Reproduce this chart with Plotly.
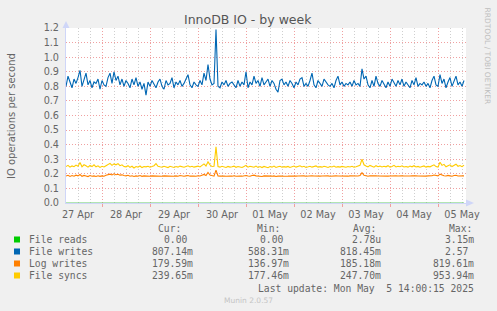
import pandas as pd
import plotly.graph_objects as go

# ---------------- data (hourly samples) ----------------
start_time = "2025-04-27 06:00"
end_time = "2025-05-05 14:00"

file_writes = [
    0.80, 0.87, 0.83, 0.79, 0.85, 0.82, 0.86, 0.91, 0.80, 0.84,
    0.89, 0.81, 0.84, 0.79, 0.83, 0.82, 0.85, 0.78, 0.84, 0.81,
    0.80, 0.86, 0.89, 0.82, 0.90, 0.84, 0.87, 0.81, 0.85, 0.80,
    0.84, 0.82, 0.79, 0.85, 0.81, 0.86, 0.80, 0.83, 0.78, 0.82,
    0.74, 0.83, 0.80, 0.84, 0.81, 0.79, 0.83, 0.85, 0.80, 0.78,
    0.84, 0.81, 0.82, 0.86, 0.79, 0.83, 0.81, 0.84, 0.80, 0.82,
    0.85, 0.88, 0.81, 0.79, 0.83, 0.81, 0.80, 0.84, 0.81, 0.89,
    0.84, 0.95, 0.85, 0.81, 0.82, 1.19, 0.80, 0.79, 0.83, 0.81,
    0.84, 0.80, 0.82, 0.83, 0.81, 0.79, 0.84, 0.80, 0.83, 0.81,
    0.90, 0.79, 0.83, 0.81, 0.87, 0.82, 0.84, 0.80, 0.86, 0.81,
    0.83, 0.85, 0.80, 0.84, 0.82, 0.78, 0.76, 0.84, 0.85, 0.81,
    0.83, 0.80, 0.84, 0.82, 0.79, 0.83, 0.81, 0.85, 0.86, 0.80,
    0.82, 0.80, 0.84, 0.89, 0.81, 0.79, 0.84, 0.82, 0.80, 0.85,
    0.83, 0.81, 0.80, 0.82, 0.79, 0.84, 0.87, 0.81, 0.83, 0.80,
    0.82, 0.81, 0.83, 0.80, 0.84, 0.81, 0.82, 0.80, 0.92, 0.85,
    0.87, 0.81, 0.79, 0.84, 0.80, 0.87, 0.82, 0.80, 0.84, 0.81,
    0.79, 0.83, 0.80, 0.85, 0.82, 0.80, 0.84, 0.81, 0.85, 0.80,
    0.83, 0.81, 0.79, 0.84, 0.81, 0.86, 0.80, 0.82, 0.81, 0.83,
    0.80, 0.82, 0.79, 0.84, 0.87, 0.81, 0.80, 0.88, 0.82, 0.85,
    0.79, 0.83, 0.86, 0.80, 0.84, 0.87, 0.81, 0.83, 0.80, 0.84,
]

log_writes = [
    0.185, 0.190, 0.182, 0.188, 0.184, 0.191, 0.186, 0.195, 0.183, 0.189,
    0.185, 0.181, 0.188, 0.184, 0.186, 0.182, 0.187, 0.183, 0.186, 0.184,
    0.190, 0.195, 0.198, 0.192, 0.200, 0.194, 0.197, 0.191, 0.193, 0.188,
    0.186, 0.190, 0.184, 0.187, 0.182, 0.186, 0.184, 0.188, 0.183, 0.186,
    0.184, 0.187, 0.183, 0.186, 0.185, 0.189, 0.184, 0.187, 0.183, 0.186,
    0.185, 0.184, 0.187, 0.185, 0.183, 0.186, 0.184, 0.188, 0.185, 0.184,
    0.186, 0.188, 0.184, 0.186, 0.185, 0.183, 0.187, 0.185, 0.190, 0.196,
    0.188, 0.210, 0.192, 0.186, 0.184, 0.225, 0.185, 0.184, 0.187, 0.185,
    0.183, 0.186, 0.185, 0.184, 0.187, 0.183, 0.186, 0.185, 0.184, 0.186,
    0.189, 0.185, 0.183, 0.188, 0.191, 0.186, 0.184, 0.187, 0.182, 0.186,
    0.185, 0.183, 0.187, 0.184, 0.186, 0.182, 0.184, 0.187, 0.185, 0.183,
    0.186, 0.184, 0.185, 0.183, 0.186, 0.184, 0.185, 0.187, 0.184, 0.186,
    0.183, 0.185, 0.184, 0.187, 0.185, 0.183, 0.186, 0.184, 0.185, 0.187,
    0.184, 0.186, 0.183, 0.185, 0.184, 0.186, 0.185, 0.184, 0.186, 0.183,
    0.185, 0.184, 0.186, 0.185, 0.183, 0.186, 0.185, 0.188, 0.208, 0.190,
    0.186, 0.184, 0.187, 0.185, 0.183, 0.186, 0.185, 0.184, 0.187, 0.185,
    0.186, 0.184, 0.185, 0.187, 0.184, 0.186, 0.185, 0.183, 0.186, 0.185,
    0.184, 0.186, 0.185, 0.187, 0.184, 0.186, 0.185, 0.184, 0.186, 0.185,
    0.184, 0.186, 0.185, 0.187, 0.192, 0.188, 0.186, 0.198, 0.190, 0.187,
    0.185, 0.189, 0.186, 0.184, 0.188, 0.190, 0.185, 0.187, 0.184, 0.186,
]

file_syncs = [
    0.250, 0.258, 0.246, 0.254, 0.249, 0.260, 0.252, 0.278, 0.248, 0.262,
    0.255, 0.246, 0.257, 0.250, 0.262, 0.248, 0.255, 0.244, 0.252, 0.247,
    0.256, 0.264, 0.272, 0.258, 0.268, 0.262, 0.270, 0.256, 0.262, 0.250,
    0.248, 0.256, 0.244, 0.252, 0.240, 0.250, 0.246, 0.254, 0.243, 0.250,
    0.248, 0.252, 0.246, 0.250, 0.256, 0.270, 0.252, 0.248, 0.245, 0.252,
    0.247, 0.243, 0.252, 0.248, 0.244, 0.250, 0.246, 0.253, 0.248, 0.245,
    0.250, 0.255, 0.247, 0.252, 0.246, 0.249, 0.253, 0.247, 0.258, 0.268,
    0.254, 0.282, 0.262, 0.250, 0.252, 0.385, 0.250, 0.246, 0.252, 0.247,
    0.244, 0.251, 0.246, 0.249, 0.253, 0.245, 0.250, 0.247, 0.244, 0.251,
    0.258, 0.246, 0.252, 0.249, 0.245, 0.253, 0.244, 0.250, 0.243, 0.251,
    0.247, 0.242, 0.250, 0.246, 0.253, 0.244, 0.248, 0.252, 0.245, 0.249,
    0.246, 0.251, 0.244, 0.249, 0.253, 0.246, 0.250, 0.255, 0.247, 0.252,
    0.244, 0.249, 0.252, 0.246, 0.250, 0.254, 0.245, 0.249, 0.246, 0.252,
    0.248, 0.244, 0.250, 0.247, 0.253, 0.245, 0.249, 0.246, 0.251, 0.247,
    0.245, 0.250, 0.247, 0.252, 0.246, 0.249, 0.252, 0.258, 0.300, 0.262,
    0.254, 0.248, 0.258, 0.250, 0.246, 0.256, 0.249, 0.253, 0.247, 0.252,
    0.248, 0.256, 0.246, 0.251, 0.258, 0.247, 0.252, 0.249, 0.255, 0.247,
    0.250, 0.246, 0.253, 0.248, 0.256, 0.247, 0.251, 0.245, 0.250, 0.254,
    0.246, 0.251, 0.248, 0.256, 0.262, 0.250, 0.246, 0.280, 0.258, 0.265,
    0.248, 0.256, 0.262, 0.250, 0.258, 0.266, 0.252, 0.257, 0.249, 0.260,
]

file_reads = [
    0, 0, 0, 0, 0, 0, 0, 0, 0, 0, 0, 0, 0, 0, 0, 0, 0, 0, 0, 0,
    0, 0, 0, 0, 0, 0, 0, 0, 0, 0, 0, 0, 0, 0, 0, 0, 0, 0, 0, 0,
    0, 0, 0, 0, 0, 0, 0, 0, 0, 0, 0, 0, 0, 0, 0, 0, 0, 0, 0, 0,
    0, 0, 0, 0, 0, 0, 0, 0, 0, 0, 0, 0, 0, 0, 0, 0, 0, 0, 0, 0,
    0, 0, 0, 0, 0, 0, 0, 0, 0, 0, 0, 0, 0, 0, 0, 0, 0, 0, 0, 0,
    0, 0, 0, 0, 0, 0, 0, 0, 0, 0, 0, 0, 0, 0, 0, 0, 0, 0, 0, 0,
    0, 0, 0, 0, 0, 0, 0, 0, 0, 0, 0, 0, 0, 0, 0, 0, 0, 0, 0, 0,
    0, 0, 0, 0, 0, 0, 0, 0, 0, 0, 0, 0, 0, 0, 0, 0, 0, 0, 0, 0,
    0, 0, 0, 0, 0, 0, 0, 0, 0, 0, 0, 0, 0, 0, 0, 0, 0, 0, 0, 0,
    0, 0, 0, 0, 0, 0, 0, 0, 0, 0, 0, 0, 0, 0, 0, 0, 0, 0, 0, 0,
]

day_labels = ["27 Apr", "28 Apr", "29 Apr", "30 Apr", "01 May",
              "02 May", "03 May", "04 May", "05 May"]
label_days = ["2025-04-27", "2025-04-28", "2025-04-29", "2025-04-30", "2025-05-01",
              "2025-05-02", "2025-05-03", "2025-05-04", "2025-05-05"]

series_names = ["File reads", "File writes", "Log writes", "File syncs"]
series_colors = ["#00CC00", "#0066B3", "#FF8000", "#FFCC00"]
cur_vals = ["0.00\u00a0", "807.14m", "179.59m", "239.65m"]
min_vals = ["0.00\u00a0", "588.31m", "136.97m", "177.46m"]
avg_vals = ["2.78u", "818.45m", "185.18m", "247.70m"]
max_vals = ["3.15m", "2.57\u00a0", "819.61m", "953.94m"]

title_text = "InnoDB IO - by week"
y_title = "IO operations per second"
last_update = "Last update: Mon May\u00a0\u00a05 14:00:15 2025"

# ---------------- figure ----------------
times = pd.date_range(start_time, periods=len(file_writes), freq="h")
noon = [pd.Timestamp(d) + pd.Timedelta(hours=12) for d in label_days]

W, H = 497, 311
L, R, T, B = 66, 466, 28, 203
PW, PH = R - L, B - T


def px(x):
    return (x - L) / PW


def py(y):
    return (B - y) / PH


FONT_COLOR = "#666666"
MONO = "DejaVu Sans Mono"
SANS = "DejaVu Sans"
MGRID = "#F0A0A0"
GRID = "#CFCFCF"
DOT = "1px,2px"

fig = go.Figure()
fig.add_trace(go.Scatter(x=times, y=file_writes, mode="lines",
                         line=dict(color=series_colors[1], width=1.1), hoverinfo="skip"))
fig.add_trace(go.Scatter(x=times, y=log_writes, mode="lines",
                         line=dict(color=series_colors[2], width=1.1), hoverinfo="skip"))
fig.add_trace(go.Scatter(x=times, y=file_syncs, mode="lines",
                         line=dict(color=series_colors[3], width=1.1), hoverinfo="skip"))
fig.add_trace(go.Scatter(x=times, y=file_reads, mode="lines", xaxis="x2",
                         line=dict(color="#66CC66", width=1.2), hoverinfo="skip"))

x_range = [pd.Timestamp(start_time), pd.Timestamp(end_time)]

fig.update_layout(
    width=W, height=H,
    margin=dict(l=L, r=W - R, t=T, b=H - B),
    paper_bgcolor="#F0F0F0", plot_bgcolor="#FFFFFF",
    showlegend=False,
    xaxis=dict(
        range=x_range, tickmode="linear", tick0="2025-04-27", dtick=86400000,
        showticklabels=False,
        ticks="outside", ticklen=3, tickcolor=MGRID,
        showgrid=True, gridcolor=MGRID, griddash=DOT, gridwidth=1,
        minor=dict(dtick=6 * 3600 * 1000, tick0="2025-04-27", showgrid=True,
                   gridcolor=GRID, griddash=DOT, gridwidth=1, ticks=""),
        showline=True, linecolor="#CFD6F8", linewidth=1, zeroline=False,
        layer="below traces", fixedrange=True,
    ),
    xaxis2=dict(
        overlaying="x", matches="x", anchor="y", side="bottom",
        tickmode="array", tickvals=noon, ticktext=day_labels,
        showgrid=False, ticks="", showline=False, zeroline=False,
        tickfont=dict(family=SANS, size=9.7, color=FONT_COLOR),
        ticklabelstandoff=4,
    ),
    yaxis=dict(
        range=[0, 1.2], tickmode="linear", tick0=0, dtick=0.1, tickformat=".1f",
        showgrid=True, gridcolor=MGRID, griddash=DOT, gridwidth=1,
        zeroline=False, showline=True, linecolor="#CFD6F8", linewidth=1,
        tickfont=dict(family=SANS, size=9.7, color=FONT_COLOR),
        ticks="", ticklabelstandoff=4, layer="below traces",
    ),
)

# arrows on the axes
ARROW = "#CFD6F8"
fig.add_shape(type="path", xref="paper", yref="paper",
              path=f"M {px(62.5)} {py(28)} L {px(66)} {py(21)} L {px(69.5)} {py(28)} Z",
              fillcolor=ARROW, line=dict(color=ARROW, width=0))
fig.add_shape(type="path", xref="paper", yref="paper",
              path=f"M {px(466)} {py(199.5)} L {px(474)} {py(203)} L {px(466)} {py(206.5)} Z",
              fillcolor=ARROW, line=dict(color=ARROW, width=0))


def ann(text, x, y, xanchor="left", size=9.7, family=MONO, color=FONT_COLOR, **kw):
    fig.add_annotation(text=text, x=px(x), y=py(y), xref="paper", yref="paper",
                       xanchor=xanchor, yanchor="middle", showarrow=False,
                       font=dict(family=family, size=size, color=color), **kw)


# title
ann(title_text, 248, 19, xanchor="center", size=12.5, family=SANS, color="#555555")
# y-axis title
ann(y_title, 11, 116, xanchor="center", size=10, family=SANS, textangle=-90)
# watermark
fig.add_annotation(text="RRDTOOL / TOBI OETIKER", x=px(487), y=py(5), xref="paper",
                   yref="paper", xanchor="center", yanchor="top", showarrow=False,
                   textangle=90, font=dict(family=SANS, size=7.5, color="#BEBEBE"))

# legend table
header_y = 228
row_y = [239.5, 251.5, 263.5, 275.5]
ann("Cur:", 156, header_y)
ann("Min:", 255, header_y)
ann("Avg:", 351, header_y)
ann("Max:", 447, header_y)
for i, name in enumerate(series_names):
    y = row_y[i]
    fig.add_shape(type="rect", xref="paper", yref="paper",
                  x0=px(14), x1=px(20), y0=py(y + 3), y1=py(y - 3),
                  fillcolor=series_colors[i], line=dict(width=0))
    ann(name, 27, y)
    ann(cur_vals[i], 195, y, xanchor="right")
    ann(min_vals[i], 291, y, xanchor="right")
    ann(avg_vals[i], 383, y, xanchor="right")
    ann(max_vals[i], 476, y, xanchor="right")

ann(last_update, 476, 288, xanchor="right")
ann("Munin 2.0.57", 248, 300, xanchor="center", size=7.5, family=SANS, color="#C4C4C4")

fig.write_html("out.html")
